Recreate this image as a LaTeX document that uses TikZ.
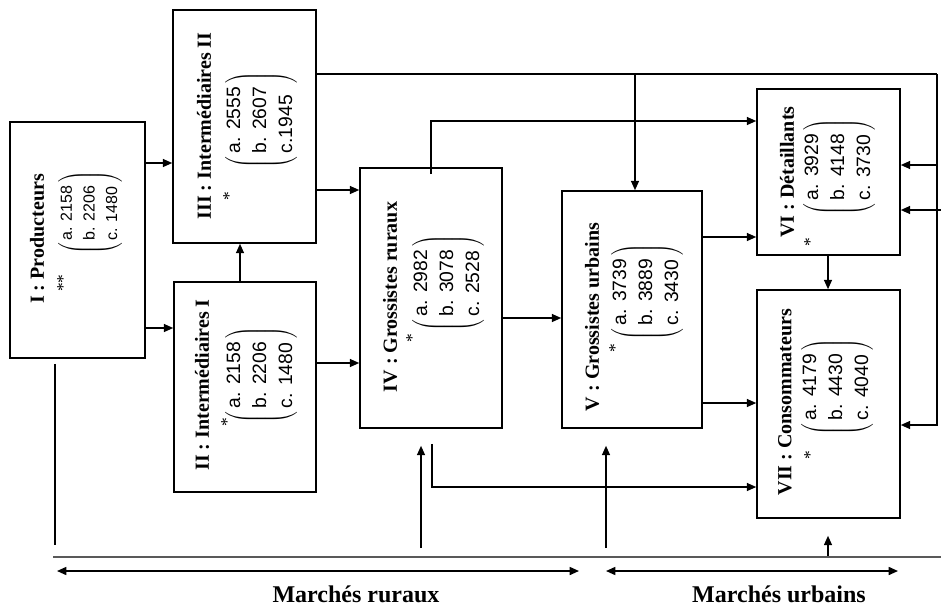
\documentclass[tikz,border=0pt]{standalone}
\usepackage{fontspec}
\setmainfont{Liberation Serif}
\newfontfamily\chiffres{Liberation Sans}
\usetikzlibrary{arrows.meta,fit,calc}

\newcommand{\valeurs}[3]{$\left(\begin{tabular}{@{\,}l@{\,}}#1\\ #2\\ #3\end{tabular}\right)$}

\tikzset{
	boite/.style={draw, line width=1.2pt, inner sep=0pt},
	titre/.style={rotate=90, font=\bfseries\fontsize{15}{18}\selectfont},
	liste/.style={rotate=90, inner sep=0pt, font=\chiffres\fontsize{14.5}{19.5}\selectfont},
	etoile/.style={rotate=90, inner sep=0pt, font=\fontsize{13}{15}\selectfont},
	marche/.style={font=\bfseries\fontsize{18}{20}\selectfont},
	fleche/.style={line width=1pt, -{Triangle[length=7pt,width=6pt]}},
	double/.style={line width=1.2pt, {Triangle[length=7pt,width=6pt]}-{Triangle[length=7pt,width=6pt]}},
	trait/.style={line width=1pt}
}

\begin{document}
\begin{tikzpicture}[x=0.75pt, y=-0.75pt]
	\useasboundingbox (0,0) rectangle (941,611);

	\node [boite, fit={(10,122) (145,358)}] (prod) {};
	\node [titre] (prod-t) at (37,239) {I : Producteurs};
	\node [liste, font=\chiffres\fontsize{12}{17}\selectfont] (prod-l) at (90,213)
		{\valeurs{a. 2158}{b. 2206}{c. 1480}};
	\node [etoile] (prod-s) at (63,283) {**};

	\node [boite, fit={(173,10) (316,243)}] (inter2) {};
	\node [titre] (inter2-t) at (204,126) {III : Intermédiaires II};
	\node [liste] (inter2-l) at (261,120) {\valeurs{a. 2555}{b. 2607}{c.1945}};
	\node [etoile] (inter2-s) at (229,196) {*};

	\node [boite, fit={(174,282) (316,492)}] (inter1) {};
	\node [titre] (inter1-t) at (202,385) {II : Intermédiaires I};
	\node [liste] (inter1-l) at (261,375) {\valeurs{a. 2158}{b. 2206}{c. 1480}};
	\node [etoile] (inter1-s) at (227,422) {*};

	\node [boite, fit={(360,168) (502,428)}] (grosr) {};
	\node [titre] (grosr-t) at (390,297) {IV : Grossistes ruraux};
	\node [liste] (grosr-l) at (448,283) {\valeurs{a. 2982}{b. 3078}{c. 2528}};
	\node [etoile] (grosr-s) at (412,338) {*};

	\node [boite, fit={(562,191) (702,428)}] (grosu) {};
	\node [titre] (grosu-t) at (592,317) {V : Grossistes urbains};
	\node [liste] (grosu-l) at (647,292) {\valeurs{a. 3739}{b. 3889}{c. 3430}};
	\node [etoile] (grosu-s) at (615,348) {*};

	\node [boite, fit={(757,89) (900,255)}] (detail) {};
	\node [titre] (detail-t) at (787,172) {VI : Détaillants};
	\node [liste] (detail-l) at (839,167) {\valeurs{a. 3929}{b. 4148}{c. 3730}};
	\node [etoile] (detail-s) at (810,242) {*};

	\node [boite, fit={(757,290) (900,518)}] (conso) {};
	\node [titre] (conso-t) at (785,402) {VII : Consommateurs};
	\node [liste] (conso-l) at (837,387) {\valeurs{a. 4179}{b. 4430}{c. 4040}};
	\node [etoile] (conso-s) at (810,455) {*};

	\coordinate (coin) at (937,74);
	\coordinate (ext) at (941,210);
	\coordinate (sol-g) at (53,557);
	\coordinate (sol-d) at (941,557);

	\draw [fleche] (prod.east |- 0,163) -- (inter2.west |- 0,163);
	\draw [fleche] (prod.east |- 0,328) -- (inter1.west |- 0,328);
	\draw [fleche] (inter1.north -| 240,0) -- (inter2.south -| 240,0);
	\draw [fleche] (inter2.east |- 0,190) -- (grosr.west |- 0,190);
	\draw [fleche] (inter1.east |- 0,363) -- (grosr.west |- 0,363);
	\draw [fleche] (grosr.east |- 0,318) -- (grosu.west |- 0,318);
	\draw [fleche] (grosu.east |- 0,237) -- (detail.west |- 0,237);
	\draw [fleche] (grosu.east |- 0,403) -- (conso.west |- 0,403);
	\draw [fleche] (detail.south -| 828,0) -- (conso.north -| 828,0);

	\draw [trait] (inter2.east |- coin) -- (coin);
	\draw [fleche] (coin) -- (coin |- 0,425) -- (conso.east |- 0,425);
	\draw [fleche] (coin |- 0,165) -- (detail.east |- 0,165);
	\draw [fleche] (635,74) -- (grosu.north -| 635,0);
	\draw [fleche] (ext) -- (detail.east |- ext);

	\draw [fleche] ($(grosr.north -| 431,0)+(0,7)$) -- (431,121) -- (detail.west |- 0,121);
	\draw [fleche] ($(grosr.south -| 432,0)+(0,15)$) -- (432,487) -- (conso.west |- 0,487);

	\draw [fleche] (421,548) -- ($(grosr.south -| 421,0)+(0,17)$);
	\draw [fleche] (606,548) -- ($(grosu.south -| 606,0)+(0,17)$);
	\draw [fleche] (sol-g -| 828,0) -- ($(conso.south -| 828,0)+(0,17)$);

	\draw [trait] ($(prod.south -| 55,0)+(0,5)$) -- (55,545);
	\draw [line width=1.6pt, gray!70!black] (sol-g) -- (sol-d);

	\draw [double] (57,571) -- (579,571);
	\draw [double] (606,571) -- (898,571);
	\node [marche] (rural) at (356,594) {Marchés ruraux};
	\node [marche] (urbain) at (779,594) {Marchés urbains};
\end{tikzpicture}
\end{document}
